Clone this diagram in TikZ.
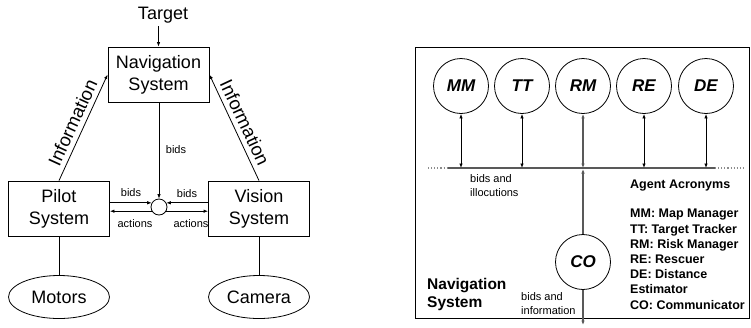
\documentclass[tikz,border=0pt]{standalone}
\usepackage{fontspec}
\setmainfont{Liberation Sans}
\usetikzlibrary{arrows.meta,calc,shapes.geometric}
\begin{document}
\begin{tikzpicture}[x=1pt,y=-1pt,
  tip/.style={-{Latex[length=4.5pt,width=3.5pt]}},
  dtip/.style={{Latex[length=4.5pt,width=3.5pt]}-{Latex[length=4.5pt,width=3.5pt]}},
  bigbox/.style={draw,line width=0.8pt,minimum width=101pt,minimum height=55pt,inner sep=0pt,align=center,font=\fontsize{18}{22}\selectfont},
  bigell/.style={draw,ellipse,line width=0.8pt,minimum width=101pt,minimum height=43pt,inner sep=0pt,font=\fontsize{18}{22}\selectfont},
  small/.style={font=\fontsize{11}{14}\selectfont,inner sep=0pt},
  infolbl/.style={sloped,above,inner sep=0pt,outer sep=0pt,yshift=5pt,font=\fontsize{18.5}{22}\selectfont},
  agent/.style={draw,circle,line width=0.8pt,minimum size=55pt,inner sep=0pt,font=\fontsize{17}{20}\selectfont\bfseries\itshape},
  wire/.style={line width=0.8pt},
  bus/.style={draw=black!65,line width=1.3pt}
]
\useasboundingbox (0,0) rectangle (751,327);

% ---------- left panel ----------
\node[inner sep=0pt,font=\fontsize{18}{22}\selectfont] (target) at (163,15) {Target};
\node[bigbox] (nav) at (158.5,74.5) {Navigation\\System};
\node[bigbox] (pilot) at (59,208.5) {Pilot\\System};
\node[bigbox] (vision) at (259,208.5) {Vision\\System};
\node[bigell] (motors) at (59,297) {Motors};
\node[bigell] (camera) at (259,297) {Camera};
\node[draw,circle,line width=0.8pt,minimum size=16pt,inner sep=0pt] (hub) at (159,207) {};

\draw[wire,tip] (nav.north |- target.south) ++(0,3) -- (nav.north);
\draw[wire,tip] (pilot.north) -- node[infolbl]{Information} (nav.west);
\draw[wire,{Latex[length=4.5pt,width=3.5pt]}-] (nav.east) -- node[infolbl]{Information} (vision.north);
\draw[wire] (pilot.south) -- (motors.north);
\draw[wire] (vision.south) -- (camera.north);
\draw[wire,tip] (nav.south -| hub.north) -- (hub.north);
\node[small] (lb1) at (176,150) {bids};

\draw[wire,tip] (pilot.east |- hub.150) -- (hub.150);
\draw[wire,tip] (hub.210) -- (pilot.east |- hub.210);
\draw[wire,tip] (vision.west |- hub.30) -- (hub.30);
\draw[wire,tip] (hub.330) -- (vision.west |- hub.330);
\node[small] (lb2) at (131,193) {bids};
\node[small] (la1) at (135,224) {actions};
\node[small] (lb3) at (187,194) {bids};
\node[small] (la2) at (191,224) {actions};

% ---------- right panel ----------
\draw[line width=0.9pt] (415,47) rectangle (749.5,318);
\node[agent] (mm) at (461,86) {MM};
\node[agent] (tt) at (522,86) {TT};
\node[agent] (rm) at (583,86) {RM};
\node[agent] (re) at (644,86) {RE};
\node[agent] (de) at (706,86) {DE};
\node[agent] (co) at (583,262) {CO};

\coordinate (busL) at (448,168);
\coordinate (busR) at (715,168);
\coordinate (busLL) at (428,168);
\coordinate (busRR) at (743,168);
\coordinate (out) at (583,325);
\draw[bus] (busL) -- (busR);
\draw[draw=black!45,line width=1.1pt,dotted] (busLL) -- (busL);
\draw[draw=black!45,line width=1.1pt,dotted] (busR) -- (busRR);

\draw[wire,dtip] (mm.south) -- (mm.south |- busL);
\draw[wire,dtip] (tt.south) -- (tt.south |- busL);
\draw[bus,dtip] (rm.south) -- (rm.south |- busL);
\draw[wire,dtip] (re.south) -- (re.south |- busL);
\draw[wire,dtip] (de.south) -- (de.south |- busL);
\draw[bus,tip] (co.north) -- ($(co.north |- busL)+(0,1)$);
\draw[bus,tip] (co.south) -- (out);

\node[small,align=left,anchor=west] (bi) at (470,186) {bids and\\illocutions};
\node[small,align=left,anchor=west] (binf) at (521,303.5) {bids and\\information};
\node[anchor=west,inner sep=0pt,font=\fontsize{12.5}{15}\selectfont\bfseries] (acr) at (630,186) {Agent Acronyms};
\node[anchor=north west,inner sep=0pt,align=left,font=\fontsize{12.5}{15.2}\selectfont\bfseries] (list) at (630,209) {MM: Map Manager\\TT: Target Tracker\\RM: Risk Manager\\RE: Rescuer\\DE: Distance\\Estimator\\CO: Communicator};
\node[anchor=west,inner sep=0pt,align=left,font=\fontsize{15.5}{18}\selectfont\bfseries] (navlbl) at (427,294) {Navigation\\System};
\end{tikzpicture}
\end{document}
